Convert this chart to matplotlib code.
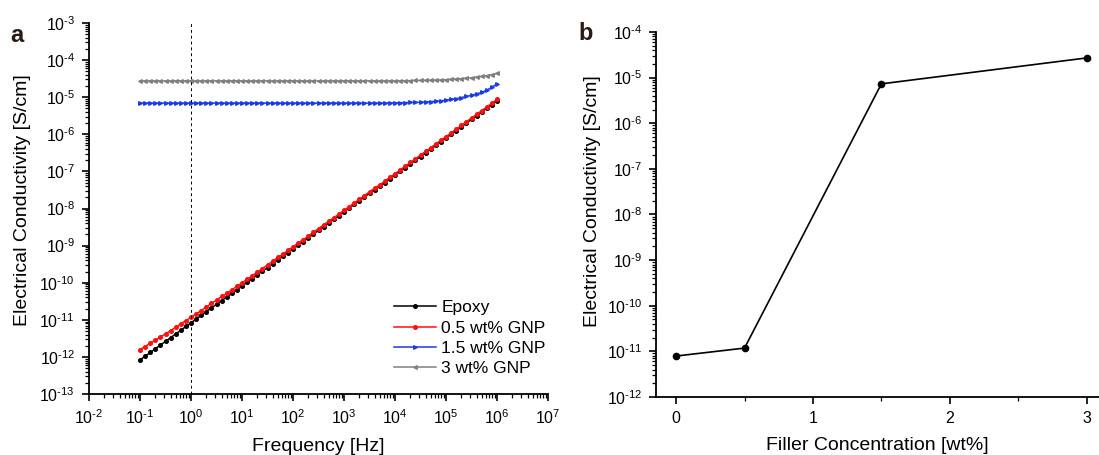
import numpy as np
import matplotlib
matplotlib.use("Agg")
import matplotlib.pyplot as plt
from matplotlib.ticker import LogLocator, FuncFormatter, MultipleLocator, NullFormatter

plt.rcParams['font.family'] = ['Liberation Sans', 'DejaVu Sans']
plt.rcParams['mathtext.fontset'] = 'custom'
plt.rcParams['mathtext.rm'] = 'Liberation Sans'
plt.rcParams['mathtext.it'] = 'Liberation Sans'
plt.rcParams['axes.unicode_minus'] = False

# --- panel a: conductivity vs frequency (log10 values) ---
freq = np.logspace(-1, 6, 71)

epoxy_log = [
    -12.08, -11.98, -11.88, -11.78, -11.68, -11.58, -11.48, -11.38, -11.28, -11.18,
    -11.08, -10.98, -10.88, -10.78, -10.68, -10.58, -10.48, -10.39, -10.29, -10.19,
    -10.09, -9.99, -9.89, -9.79, -9.69, -9.59, -9.49, -9.39, -9.29, -9.19,
    -9.09, -8.99, -8.89, -8.79, -8.69, -8.59, -8.49, -8.39, -8.29, -8.19,
    -8.09, -7.99, -7.89, -7.79, -7.69, -7.59, -7.49, -7.40, -7.30, -7.20,
    -7.10, -7.00, -6.90, -6.80, -6.70, -6.60, -6.50, -6.40, -6.30, -6.20,
    -6.10, -6.00, -5.90, -5.80, -5.70, -5.60, -5.50, -5.40, -5.30, -5.20,
    -5.10]

gnp05_log = [
    -11.80, -11.72, -11.63, -11.55, -11.46, -11.38, -11.29, -11.20, -11.11, -11.02,
    -10.93, -10.84, -10.75, -10.65, -10.56, -10.47, -10.37, -10.29, -10.19, -10.10,
    -10.00, -9.91, -9.81, -9.71, -9.62, -9.52, -9.42, -9.32, -9.23, -9.13,
    -9.03, -8.93, -8.84, -8.74, -8.64, -8.54, -8.44, -8.34, -8.25, -8.15,
    -8.05, -7.95, -7.85, -7.75, -7.65, -7.55, -7.45, -7.36, -7.26, -7.16,
    -7.06, -6.96, -6.86, -6.76, -6.66, -6.56, -6.46, -6.36, -6.26, -6.16,
    -6.06, -5.96, -5.86, -5.76, -5.66, -5.56, -5.46, -5.36, -5.26, -5.16,
    -5.06]

gnp15_log = [
    -5.16, -5.16, -5.16, -5.16, -5.16, -5.16, -5.16, -5.16, -5.16, -5.16,
    -5.16, -5.16, -5.16, -5.16, -5.16, -5.16, -5.16, -5.16, -5.16, -5.16,
    -5.16, -5.16, -5.16, -5.16, -5.16, -5.16, -5.16, -5.16, -5.16, -5.16,
    -5.16, -5.16, -5.16, -5.16, -5.16, -5.16, -5.16, -5.16, -5.16, -5.16,
    -5.16, -5.16, -5.16, -5.16, -5.16, -5.16, -5.16, -5.16, -5.16, -5.155,
    -5.15, -5.15, -5.145, -5.14, -5.14, -5.14, -5.13, -5.12, -5.11, -5.10,
    -5.08, -5.06, -5.04, -5.01, -4.98, -4.95, -4.91, -4.87, -4.81, -4.73,
    -4.64]

gnp3_log = [
    -4.56, -4.56, -4.56, -4.56, -4.56, -4.56, -4.56, -4.56, -4.56, -4.56,
    -4.56, -4.56, -4.56, -4.56, -4.56, -4.56, -4.56, -4.56, -4.56, -4.56,
    -4.56, -4.56, -4.56, -4.56, -4.56, -4.56, -4.56, -4.56, -4.56, -4.56,
    -4.56, -4.56, -4.56, -4.56, -4.56, -4.56, -4.56, -4.56, -4.56, -4.56,
    -4.56, -4.56, -4.56, -4.56, -4.56, -4.56, -4.56, -4.56, -4.56, -4.56,
    -4.56, -4.56, -4.555, -4.555, -4.55, -4.55, -4.545, -4.54, -4.54, -4.535,
    -4.53, -4.52, -4.51, -4.50, -4.49, -4.475, -4.46, -4.44, -4.42, -4.39,
    -4.36]

series_names = ['Epoxy', '0.5 wt% GNP', '1.5 wt% GNP', '3 wt% GNP']
series_logs = [epoxy_log, gnp05_log, gnp15_log, gnp3_log]
series_colors = ['black', '#ff1010', '#1a3be6', '#808080']
series_markers = ['o', 'o', '>', '<']

# --- panel b: conductivity vs filler concentration ---
filler = [0, 0.5, 1.5, 3]
cond_b = [7.9e-12, 1.18e-11, 7.3e-6, 2.7e-5]

fig = plt.figure(figsize=(10.99, 4.55), dpi=100)
ax1 = fig.add_axes([0.081, 0.134, 0.4177, 0.8155])
ax2 = fig.add_axes([0.597, 0.1275, 0.403, 0.8022])


# potencias de 10 com hifen normal no expoente, como no original
def pot10(v, pos):
    e = int(round(np.log10(v)))
    if e < 0:
        return r'$\mathregular{10^{\text{-}%d}}$' % (-e)
    return r'$\mathregular{10^{%d}}$' % e


def style_axes(ax):
    for s in ['top', 'right']:
        ax.spines[s].set_visible(False)
    for s in ['left', 'bottom']:
        ax.spines[s].set_linewidth(1.3)
    ax.tick_params(which='major', direction='out', length=5, width=1.2, labelsize=11.5,
                   colors='black', pad=5)
    ax.tick_params(which='minor', direction='out', length=2.8, width=0.9)


def log_ticks(axis):
    axis.set_major_locator(LogLocator(base=10, numticks=20))
    axis.set_minor_locator(LogLocator(base=10, subs=np.arange(2, 10), numticks=20))
    axis.set_major_formatter(FuncFormatter(pot10))
    axis.set_minor_formatter(NullFormatter())


for name, vals, col, mk in zip(series_names, series_logs, series_colors, series_markers):
    ax1.plot(freq, 10 ** np.array(vals), color=col, marker=mk, markersize=2.6,
             linewidth=1.1, label=name)

ax1.axvline(1, color='black', linestyle=(0, (3, 3)), linewidth=0.7)
ax1.set_xscale('log')
ax1.set_yscale('log')
ax1.set_xlim(1e-2, 1e7)
ax1.set_ylim(1e-13, 1e-3)
log_ticks(ax1.xaxis)
log_ticks(ax1.yaxis)
style_axes(ax1)
ax1.set_xlabel('Frequency [Hz]', fontsize=14, labelpad=8)
ax1.set_ylabel('Electrical Conductivity [S/cm]', fontsize=14)
ax1.yaxis.set_label_coords(-0.127, 0.523)
ax1.legend(loc='lower right', frameon=False, fontsize=12.5, handlelength=2.4,
           handletextpad=0.3, labelspacing=0.3, borderaxespad=0.3,
           bbox_to_anchor=(1.021, 0.015))

ax2.plot(filler, cond_b, color='black', marker='o', markersize=4.5, linewidth=1.2)
ax2.set_yscale('log')
ax2.set_xlim(-0.146, 3.09)
ax2.set_ylim(1e-12, 1e-4)
ax2.xaxis.set_major_locator(MultipleLocator(1))
ax2.xaxis.set_minor_locator(MultipleLocator(0.5))
log_ticks(ax2.yaxis)
style_axes(ax2)
ax2.set_xlabel('Filler Concentration [wt%]', fontsize=14, labelpad=8)
ax2.set_ylabel('Electrical Conductivity [S/cm]', fontsize=14)
ax2.yaxis.set_label_coords(-0.124, 0.537)

fig.text(0.009, 0.908, 'a', fontsize=17, fontweight='bold', color='#2a1a10')
fig.text(0.526, 0.912, 'b', fontsize=17, fontweight='bold', color='#2a1a10')

fig.savefig('out.png', dpi=100)
